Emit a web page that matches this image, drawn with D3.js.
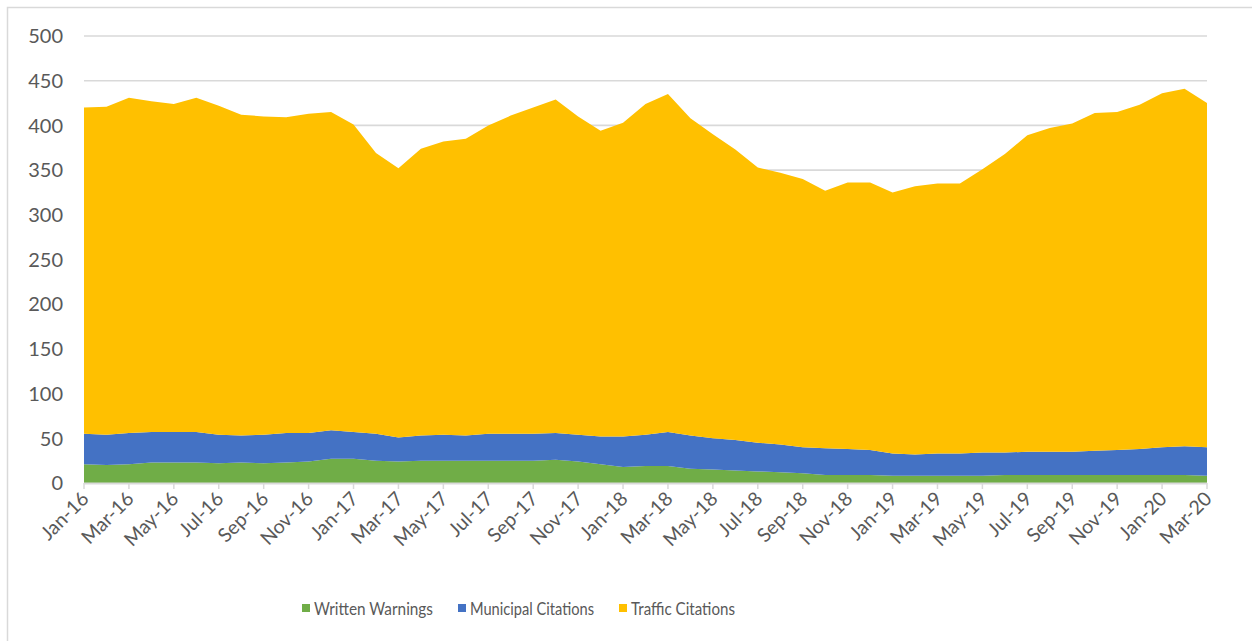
<!DOCTYPE html>
<html>
<head>
<meta charset="utf-8">
<script src="https://cdn.jsdelivr.net/npm/d3@7"></script>
<style>
  body { margin: 0; background: #fff; }
  svg { display: block; font-family: Lato, "Open Sans", sans-serif; }
</style>
</head>
<body>
<div id="chart"></div>
<script>
// Month labels (one per point)
const months = ["Jan-16","Feb-16","Mar-16","Apr-16","May-16","Jun-16","Jul-16","Aug-16","Sep-16","Oct-16","Nov-16","Dec-16",
  "Jan-17","Feb-17","Mar-17","Apr-17","May-17","Jun-17","Jul-17","Aug-17","Sep-17","Oct-17","Nov-17","Dec-17",
  "Jan-18","Feb-18","Mar-18","Apr-18","May-18","Jun-18","Jul-18","Aug-18","Sep-18","Oct-18","Nov-18","Dec-18",
  "Jan-19","Feb-19","Mar-19","Apr-19","May-19","Jun-19","Jul-19","Aug-19","Sep-19","Oct-19","Nov-19","Dec-19",
  "Jan-20","Feb-20","Mar-20"];

const writtenWarnings = [21,20,21,23,23,23,22,23,22,23,24,27,27,25,24,25,25,25,25,25,25,26,24,21,18,19,19,16,15,14,13,12,11,9,9,9,8,8,8,8,8,9,9,9,9,9,9,9,9,9,8];
const municipalCitations = [34,34,35,34,34,34,32,30,32,33,32,32,30,30,27,28,29,28,30,30,30,30,30,31,34,35,38,37,35,34,32,31,29,30,29,28,25,24,25,25,26,25,26,26,26,27,28,29,31,32,32];
const trafficCitations = [365,367,375,370,367,374,368,359,356,353,357,356,344,314,301,321,328,332,345,356,365,373,356,342,351,370,378,355,340,325,308,304,300,288,298,299,292,300,302,302,317,334,354,362,367,378,378,385,396,400,385];

const seriesNames = ["Written Warnings", "Municipal Citations", "Traffic Citations"];
const seriesColors = ["#70AD47", "#4472C4", "#FFC000"];
const yTicks = [0,50,100,150,200,250,300,350,400,450,500];

const W = 1252, H = 641;
const margin = { left: 84, right: 1207, top: 36, bottom: 483 };

const svg = d3.select("#chart").append("svg")
  .attr("width", W).attr("height", H);

// chart frame
svg.append("rect")
  .attr("x", 7.5).attr("y", 7.5)
  .attr("width", 1400).attr("height", 800)
  .attr("fill", "none").attr("stroke", "#D9D9D9").attr("stroke-width", 1.5);

const table = months.map((m, i) => ({
  month: m,
  "Written Warnings": writtenWarnings[i],
  "Municipal Citations": municipalCitations[i],
  "Traffic Citations": trafficCitations[i]
}));

const x = d3.scalePoint().domain(months).range([margin.left, margin.right]);
const y = d3.scaleLinear().domain([0, 500]).range([margin.bottom, margin.top]);

// gridlines
svg.append("g")
  .selectAll("line")
  .data(yTicks.slice(1))
  .enter().append("line")
  .attr("x1", margin.left).attr("x2", margin.right)
  .attr("y1", d => y(d)).attr("y2", d => y(d))
  .attr("stroke", "#D9D9D9").attr("stroke-width", 1.6);

// stacked areas
const stack = d3.stack().keys(seriesNames);
const layers = stack(table);
const area = d3.area()
  .x(d => x(d.data.month))
  .y0(d => y(d[0]))
  .y1(d => y(d[1]));

svg.append("g")
  .selectAll("path")
  .data(layers)
  .enter().append("path")
  .attr("d", area)
  .attr("fill", (d, i) => seriesColors[i]);

// y axis labels
svg.append("g")
  .selectAll("text")
  .data(yTicks)
  .enter().append("text")
  .attr("x", 63)
  .attr("y", d => y(d))
  .attr("dy", "0.36em")
  .attr("text-anchor", "end")
  .attr("fill", "#595959")
  .style("font-size", "20px")
  .text(d => d);

// x axis line + ticks
svg.append("line")
  .attr("x1", margin.left).attr("x2", margin.right)
  .attr("y1", margin.bottom + 0.5).attr("y2", margin.bottom + 0.5)
  .attr("stroke", "#D9D9D9").attr("stroke-width", 1.8);

const shown = months.filter((m, i) => i % 2 === 0);

svg.append("g")
  .selectAll("line")
  .data(shown)
  .enter().append("line")
  .attr("x1", d => x(d)).attr("x2", d => x(d))
  .attr("y1", margin.bottom).attr("y2", margin.bottom + 6)
  .attr("stroke", "#D9D9D9").attr("stroke-width", 1.5);

svg.append("g")
  .selectAll("text")
  .data(shown)
  .enter().append("text")
  .attr("transform", d => `translate(${x(d) + 6}, ${margin.bottom + 17}) rotate(-45)`)
  .attr("text-anchor", "end")
  .attr("fill", "#595959")
  .style("font-size", "19.5px")
  .text(d => d);

// legend
const legendItems = [
  { name: seriesNames[0], color: seriesColors[0], x: 302, w: 119 },
  { name: seriesNames[1], color: seriesColors[1], x: 458, w: 124 },
  { name: seriesNames[2], color: seriesColors[2], x: 619, w: 104 }
];
const legend = svg.append("g").selectAll("g")
  .data(legendItems)
  .enter().append("g")
  .attr("transform", d => `translate(${d.x}, 609)`);

legend.append("rect")
  .attr("x", 0).attr("y", -5)
  .attr("width", 8).attr("height", 8)
  .attr("fill", d => d.color);

legend.append("text")
  .attr("x", 12).attr("y", 0)
  .attr("dy", "0.36em")
  .attr("fill", "#595959")
  .style("font-size", "18px")
  .attr("textLength", d => d.w)
  .attr("lengthAdjust", "spacingAndGlyphs")
  .text(d => d.name);
</script>
</body>
</html>
